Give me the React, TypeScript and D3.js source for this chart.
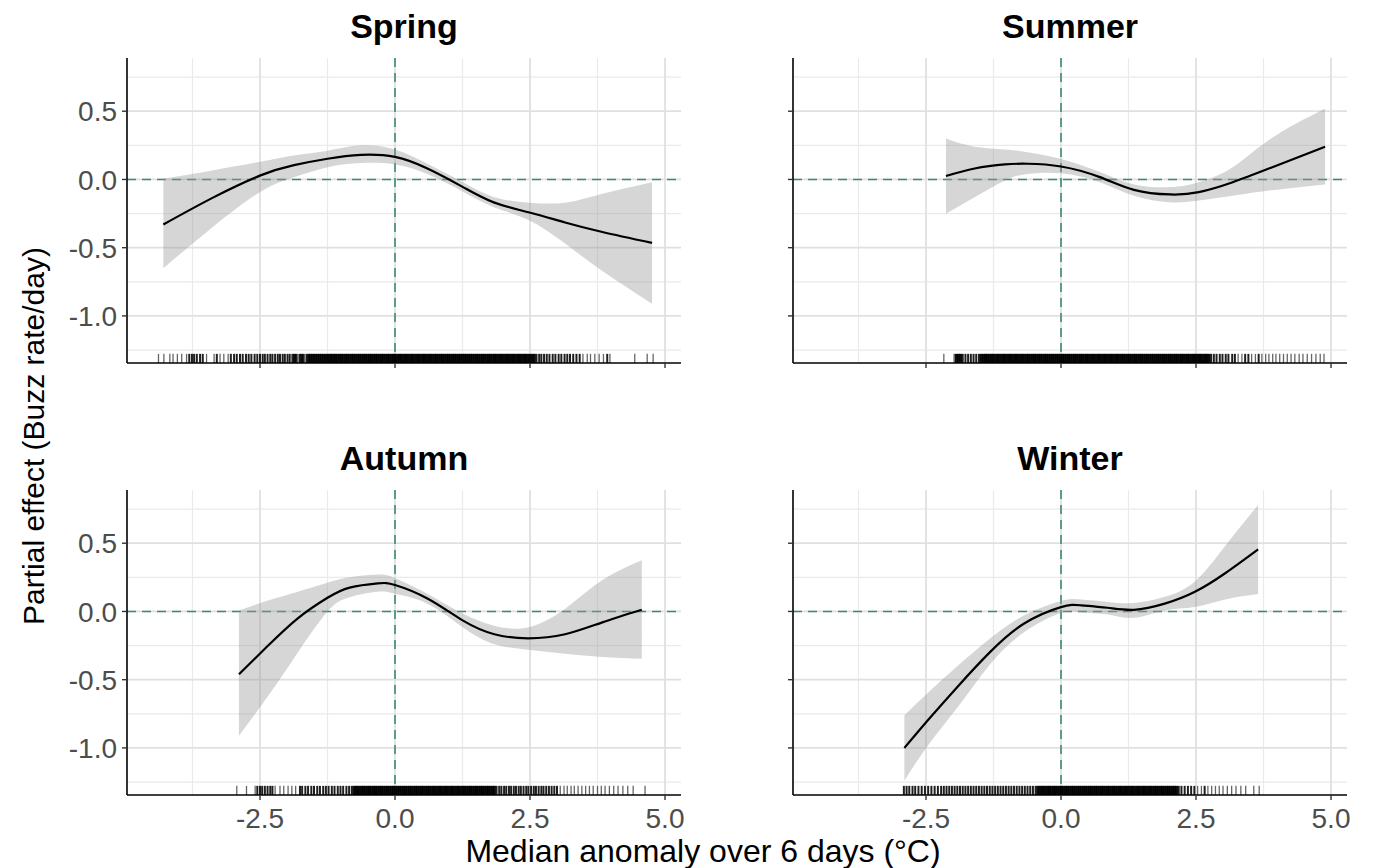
import React from 'react';
import * as d3 from 'd3';

// facet titles
const seasons = ['Spring', 'Summer', 'Autumn', 'Winter'];

// axis ticks
const xMajor = [-2.5, 0, 2.5, 5];
const xMinor = [-3.75, -1.25, 1.25, 3.75];
const yMajor = [0.5, 0, -0.5, -1];
const yMinor = [0.75, 0.25, -0.25, -0.75, -1.25];

// smooth fits: x, fitted value, upper and lower band
const springX = [-4.29, -3.38, -2.49, -1.87, -1.25, -0.63, 0.0, 0.6, 1.26, 1.84, 2.49, 3.15, 3.84, 4.76];
const springFit = [-0.33, -0.135, 0.03, 0.105, 0.152, 0.18, 0.165, 0.08, -0.056, -0.17, -0.242, -0.315, -0.385, -0.465];
const springUp = [0.005, 0.066, 0.13, 0.176, 0.21, 0.25, 0.22, 0.115, -0.02, -0.13, -0.17, -0.17, -0.105, -0.02];
const springLo = [-0.65, -0.35, -0.09, 0.017, 0.09, 0.12, 0.11, 0.04, -0.09, -0.205, -0.3, -0.47, -0.67, -0.91];

const summerX = [-2.13, -1.6, -1.04, -0.62, 0.0, 0.72, 1.35, 2.02, 2.55, 3.18, 3.89, 4.89];
const summerFit = [0.025, 0.08, 0.11, 0.115, 0.095, 0.017, -0.076, -0.11, -0.093, -0.02, 0.086, 0.24];
const summerUp = [0.3, 0.24, 0.22, 0.2, 0.15, 0.054, -0.037, -0.056, -0.02, 0.09, 0.3, 0.52];
const summerLo = [-0.25, -0.13, -0.007, 0.04, 0.045, -0.02, -0.12, -0.167, -0.155, -0.12, -0.08, -0.037];

const autumnX = [-2.89, -2.35, -1.8, -1.25, -0.84, -0.32, 0.0, 0.6, 1.26, 1.84, 2.46, 3.15, 3.84, 4.57];
const autumnFit = [-0.46, -0.25, -0.05, 0.1, 0.175, 0.206, 0.194, 0.095, -0.067, -0.167, -0.197, -0.167, -0.08, 0.012];
const autumnUp = [0.007, 0.08, 0.145, 0.21, 0.25, 0.27, 0.244, 0.13, -0.017, -0.104, -0.117, 0.02, 0.23, 0.376];
const autumnLo = [-0.91, -0.62, -0.3, 0.0, 0.105, 0.144, 0.13, 0.057, -0.117, -0.24, -0.28, -0.31, -0.333, -0.346];

const winterX = [-2.9, -2.45, -1.89, -1.32, -0.69, 0.0, 0.37, 0.86, 1.35, 1.92, 2.48, 3.04, 3.65];
const winterFit = [-1.0, -0.79, -0.54, -0.3, -0.09, 0.032, 0.045, 0.027, 0.012, 0.057, 0.144, 0.28, 0.455];
const winterUp = [-0.76, -0.59, -0.39, -0.2, -0.03, 0.077, 0.087, 0.07, 0.062, 0.107, 0.22, 0.48, 0.78];
const winterLo = [-1.24, -0.975, -0.69, -0.39, -0.154, -0.012, -0.005, -0.022, -0.047, 0.007, 0.032, 0.087, 0.127];

// rug: observed anomalies along the bottom
const springRug = [
  -4.38, -4.28, -4.17, -4.11, -4.03, -3.95, -3.86, -3.81, -3.76, -3.72, -3.67, -3.61, -3.56, -3.49,
  -3.35, -3.3, -3.24, -3.17, -3.09, -3.04, -2.98, -2.93, -2.87, -2.82, -2.76, -2.71, -2.66, -2.6, -2.55,
  -2.5, -2.45, -2.41, -2.36, -2.31, -2.27, -2.22, -2.17, -2.13, -2.08, -2.04, -1.99, -1.95, -1.9, -1.86,
  -1.82, -1.77, -1.73, -1.69, -1.64, -1.6, -1.56, -1.52, -1.48, -1.44, -1.4, -1.36, -1.32, -1.28, -1.24, -1.2,
  -1.17, -1.13, -1.1, -1.06, -1.02, -0.99, -0.95, -0.91, -0.88, -0.84, -0.8, -0.77, -0.73, -0.69, -0.66,
  -0.62, -0.58, -0.55, -0.51, -0.47, -0.44, -0.4, -0.36, -0.33, -0.29, -0.25, -0.22, -0.18, -0.14, -0.11,
  -0.07, -0.03, 0.0, 0.04, 0.08, 0.11, 0.15, 0.19, 0.22, 0.26, 0.3, 0.33, 0.37, 0.41, 0.44, 0.48, 0.52,
  0.55, 0.59, 0.63, 0.66, 0.7, 0.74, 0.77, 0.81, 0.85, 0.88, 0.92, 0.96, 0.99, 1.03, 1.07, 1.1, 1.14, 1.18,
  1.21, 1.25, 1.29, 1.32, 1.36, 1.4, 1.43, 1.47, 1.51, 1.54, 1.58, 1.62, 1.65, 1.69, 1.73, 1.76, 1.8, 1.84,
  1.87, 1.91, 1.95, 1.98, 2.02, 2.06, 2.09, 2.13, 2.17, 2.2, 2.24, 2.28, 2.31, 2.35, 2.39, 2.42, 2.46, 2.5,
  2.54, 2.58, 2.62, 2.67, 2.71, 2.76, 2.81, 2.86, 2.92, 2.97, 3.03, 3.08, 3.14, 3.19, 3.24, 3.3, 3.36, 3.42,
  3.48, 3.56, 3.62, 3.7, 3.78, 3.86, 3.93, 3.98, 4.44, 4.67, 4.78,
];
const summerRug = [
  -2.17, -1.98, -1.94, -1.9, -1.86, -1.82, -1.77, -1.72, -1.67, -1.62, -1.57, -1.52, -1.48,
  -1.44, -1.4, -1.37, -1.33, -1.29, -1.26, -1.22, -1.18, -1.15, -1.11, -1.07, -1.04, -1.0, -0.96, -0.93,
  -0.89, -0.85, -0.82, -0.78, -0.74, -0.71, -0.67, -0.63, -0.6, -0.56, -0.52, -0.49, -0.45, -0.41, -0.38,
  -0.34, -0.3, -0.27, -0.23, -0.19, -0.16, -0.12, -0.08, -0.05, -0.01, 0.03, 0.06, 0.1, 0.14, 0.17, 0.21,
  0.25, 0.28, 0.32, 0.36, 0.39, 0.43, 0.47, 0.5, 0.54, 0.58, 0.61, 0.65, 0.69, 0.72, 0.76, 0.8, 0.83, 0.87,
  0.91, 0.94, 0.98, 1.02, 1.05, 1.09, 1.13, 1.16, 1.2, 1.24, 1.27, 1.31, 1.35, 1.38, 1.42, 1.46, 1.49, 1.53,
  1.57, 1.6, 1.64, 1.68, 1.71, 1.75, 1.79, 1.82, 1.86, 1.9, 1.93, 1.97, 2.01, 2.04, 2.08, 2.12, 2.15, 2.19,
  2.23, 2.26, 2.3, 2.34, 2.37, 2.41, 2.45, 2.48, 2.52, 2.56, 2.59, 2.63, 2.67, 2.7, 2.74, 2.78,
  2.83, 2.88, 2.94, 2.99, 3.05, 3.1, 3.17, 3.22, 3.28, 3.35, 3.41, 3.47, 3.53, 3.6, 3.66, 3.72, 3.79, 3.85,
  3.92, 3.98, 4.05, 4.12, 4.19, 4.26, 4.33, 4.41, 4.48, 4.56, 4.64, 4.72, 4.8, 4.87,
];
const autumnRug = [
  -2.93, -2.75, -2.59, -2.55, -2.5, -2.46, -2.41, -2.36, -2.31, -2.27, -2.22, -2.13, -2.06, -1.98, -1.91,
  -1.84, -1.76, -1.72, -1.66, -1.61, -1.55, -1.5, -1.44, -1.39, -1.33, -1.28, -1.23, -1.17, -1.12, -1.06,
  -1.01, -0.96, -0.9, -0.85, -0.8,
  -0.76, -0.72, -0.69, -0.65, -0.61, -0.58, -0.54, -0.5, -0.47, -0.43, -0.39, -0.36, -0.32, -0.28, -0.25,
  -0.21, -0.17, -0.14, -0.1, -0.06, -0.03, 0.01, 0.05, 0.08, 0.12, 0.16, 0.19, 0.23, 0.27, 0.3, 0.34, 0.38,
  0.41, 0.45, 0.49, 0.52, 0.56, 0.6, 0.63, 0.67, 0.71, 0.74, 0.78, 0.82, 0.85, 0.89, 0.93, 0.96, 1.0, 1.04,
  1.07, 1.11, 1.15, 1.18, 1.22, 1.26, 1.29, 1.33, 1.37, 1.4, 1.44, 1.48, 1.51, 1.55, 1.59, 1.62, 1.66, 1.7,
  1.73, 1.77, 1.81, 1.84, 1.88,
  1.93, 1.97, 2.02, 2.06, 2.11, 2.15, 2.2, 2.24, 2.29, 2.33, 2.38, 2.43, 2.47, 2.52, 2.57, 2.61, 2.66, 2.71,
  2.75, 2.8, 2.85, 2.9, 2.95, 3.0,
  3.06, 3.13, 3.19, 3.26, 3.32, 3.39, 3.46, 3.53, 3.6, 3.67, 3.75, 3.82, 3.89, 3.97, 4.05, 4.13, 4.22, 4.31,
  4.41, 4.63,
];
const winterRug = [
  -2.91, -2.86, -2.81, -2.75, -2.7, -2.64, -2.58, -2.52, -2.46, -2.4, -2.34, -2.28, -2.22,
  -2.17, -2.12, -2.07, -2.02, -1.97, -1.92, -1.87, -1.82, -1.77, -1.72, -1.67, -1.62, -1.57, -1.52, -1.47,
  -1.42, -1.37, -1.32, -1.27, -1.22, -1.17, -1.12, -1.07, -1.02, -0.97, -0.92, -0.87, -0.82, -0.77, -0.72,
  -0.67, -0.62, -0.57, -0.52, -0.47, -0.43,
  -0.39, -0.35, -0.32, -0.28, -0.24, -0.21, -0.17, -0.13, -0.1, -0.06, -0.02, 0.01, 0.05, 0.09, 0.12, 0.16,
  0.2, 0.23, 0.27, 0.31, 0.34, 0.38, 0.42, 0.45, 0.49, 0.53, 0.56, 0.6, 0.64, 0.67, 0.71, 0.75, 0.78, 0.82,
  0.86, 0.89, 0.93, 0.97, 1.0, 1.04, 1.08, 1.11, 1.15, 1.19, 1.22, 1.26, 1.3, 1.33, 1.37, 1.41, 1.44, 1.48,
  1.52, 1.55, 1.59, 1.63, 1.66, 1.7, 1.74, 1.77, 1.81, 1.85, 1.88, 1.92, 1.96, 1.99, 2.03, 2.07, 2.1, 2.14,
  2.18,
  2.23, 2.29, 2.35, 2.41, 2.47, 2.53, 2.6, 2.66, 2.72, 2.79, 2.86, 2.93, 3.0, 3.08, 3.16, 3.24, 3.33, 3.42,
  3.57, 3.67,
];

const fits = [
  { x: springX, fit: springFit, up: springUp, lo: springLo, rug: springRug },
  { x: summerX, fit: summerFit, up: summerUp, lo: summerLo, rug: summerRug },
  { x: autumnX, fit: autumnFit, up: autumnUp, lo: autumnLo, rug: autumnRug },
  { x: winterX, fit: winterFit, up: winterUp, lo: winterLo, rug: winterRug },
];

const font = '"Liberation Sans", Arial, Helvetica, sans-serif';
const colLeft = [127, 793];
const rowTop = [58, 490];
const pw = 554;
const ph = 305;
const refGreen = '#3A8C6E';

const x = d3.scaleLinear().domain([-4.963, 5.296]).range([0, pw]);
const y = d3.scaleLinear().domain([-1.345, 0.89]).range([ph, 0]);
const fmt = (v: number) => v.toFixed(1);

const Panel = ({ i }: { i: number }) => {
  const col = i % 2;
  const row = Math.floor(i / 2);
  const d = fits[i];
  const pts = d.x.map((xv, k) => ({ x: xv, fit: d.fit[k], up: d.up[k], lo: d.lo[k] }));

  const area = d3
    .area<any>()
    .x(p => x(p.x))
    .y0(p => y(p.lo))
    .y1(p => y(p.up))
    .curve(d3.curveNatural);
  const line = d3
    .line<any>()
    .x(p => x(p.x))
    .y(p => y(p.fit))
    .curve(d3.curveNatural);

  const rugLen = ph * 0.03;
  // where rug ticks crowd together they merge into a solid band
  const rugPx = d.rug.map(v => x(v)).sort((a, b) => a - b);
  const rugMarks = rugPx.map((px, k) => {
    const prev = k > 0 ? px - rugPx[k - 1] : null;
    const next = k < rugPx.length - 1 ? rugPx[k + 1] - px : null;
    const gaps = [prev, next].filter(g => g !== null) as number[];
    const avg = d3.mean(gaps) as number;
    const widest = d3.max(gaps) as number;
    if (avg < 2.35) return { px, w: widest + 0.9, o: 0.95 };
    if (avg < 3.3) return { px, w: 2.0, o: 0.88 };
    return { px, w: 1.3, o: 0.6 };
  });

  return (
    <g transform={`translate(${colLeft[col]},${rowTop[row]})`}>
      {/* grid */}
      {xMinor.map(v => (
        <line key={'xm' + v} x1={x(v)} x2={x(v)} y1={0} y2={ph} stroke="#EAEAEA" strokeWidth={1.2} />
      ))}
      {yMinor.map(v => (
        <line key={'ym' + v} x1={0} x2={pw} y1={y(v)} y2={y(v)} stroke="#EAEAEA" strokeWidth={1.2} />
      ))}
      {xMajor.map(v => (
        <line key={'xM' + v} x1={x(v)} x2={x(v)} y1={0} y2={ph} stroke="#E0E0E0" strokeWidth={1.8} />
      ))}
      {yMajor.map(v => (
        <line key={'yM' + v} x1={0} x2={pw} y1={y(v)} y2={y(v)} stroke="#E0E0E0" strokeWidth={1.8} />
      ))}

      {/* reference lines */}
      <line x1={x(0)} x2={x(0)} y1={0} y2={ph} stroke={refGreen} strokeWidth={1.6} strokeDasharray="9,6" />
      <line x1={0} x2={pw} y1={y(0)} y2={y(0)} stroke={refGreen} strokeWidth={1.6} strokeDasharray="9,6" />

      {/* band and fit */}
      <path d={area(pts) || ''} fill="#999999" fillOpacity={0.4} />
      <path d={line(pts) || ''} fill="none" stroke="#000" strokeWidth={2.2} />

      {/* rug */}
      {rugMarks.map((m, k) => (
        <line key={'r' + k} x1={m.px} x2={m.px} y1={ph - rugLen} y2={ph} stroke="#000" strokeOpacity={m.o} strokeWidth={m.w} />
      ))}

      {/* axes */}
      <line x1={0} x2={0} y1={0} y2={ph} stroke="#000" strokeWidth={1.6} />
      <line x1={0} x2={pw} y1={ph} y2={ph} stroke="#000" strokeWidth={1.6} />
      {yMajor.map(v => (
        <line key={'yt' + v} x1={-5} x2={0} y1={y(v)} y2={y(v)} stroke="#333" strokeWidth={1.4} />
      ))}
      {xMajor.map(v => (
        <line key={'xt' + v} x1={x(v)} x2={x(v)} y1={ph} y2={ph + 5} stroke="#333" strokeWidth={1.4} />
      ))}
      {col === 0 &&
        yMajor.map(v => (
          <text key={'yl' + v} x={-10} y={y(v)} dy="0.36em" textAnchor="end" fontSize={28} fill="#4D4D4D" fontFamily={font}>
            {fmt(v)}
          </text>
        ))}
      {row === 1 &&
        xMajor.map(v => (
          <text key={'xl' + v} x={x(v)} y={ph + 33} textAnchor="middle" fontSize={28} fill="#4D4D4D" fontFamily={font}>
            {fmt(v)}
          </text>
        ))}

      <text x={pw / 2} y={-20} textAnchor="middle" fontSize={34} fontWeight="bold" fill="#000" fontFamily={font}>
        {seasons[i]}
      </text>
    </g>
  );
};

export default function App() {
  return (
    <svg width={1375} height={868} style={{ position: 'absolute', left: 0, top: 0, background: '#fff' }}>
      <rect width={1375} height={868} fill="#fff" />
      {seasons.map((s, i) => (
        <Panel key={s} i={i} />
      ))}
      <text transform="translate(44,436) rotate(-90)" textAnchor="middle" fontSize={30} fill="#000" fontFamily={font}>
        Partial effect (Buzz rate/day)
      </text>
      <text x={703} y={862} textAnchor="middle" fontSize={32} fill="#000" fontFamily={font}>
        Median anomaly over 6 days (°C)
      </text>
    </svg>
  );
}
